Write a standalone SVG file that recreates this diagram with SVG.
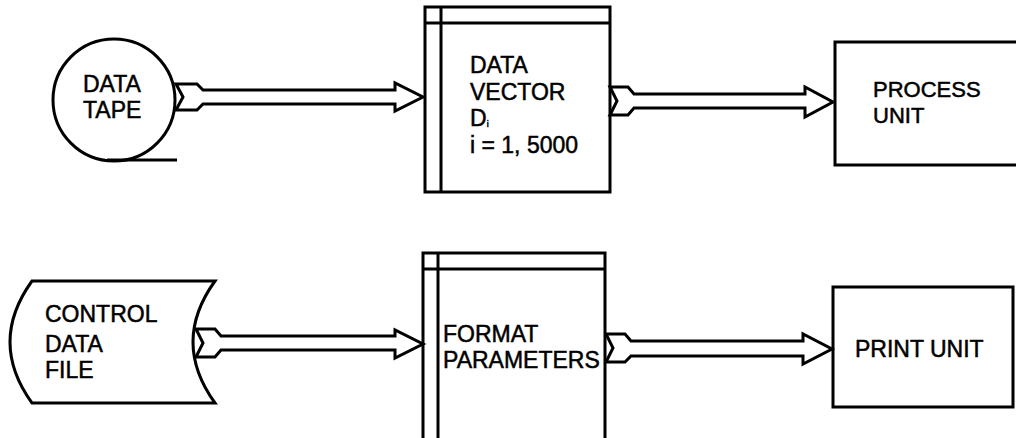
<svg xmlns="http://www.w3.org/2000/svg" width="1016" height="438" viewBox="0 0 1016 438">
  <style>
    .ln { fill: #fff; stroke: #000; stroke-width: 3; stroke-linejoin: miter; }
    .bar { fill: none; stroke: #000; stroke-width: 3; }
    .lbl { font-family: "Liberation Sans", Arial, sans-serif; font-size: 23px; fill: #000; stroke: #000; stroke-width: 0.5; }
    .sm { font-size: 22px; }
  </style>
  <rect width="1016" height="438" fill="#fff"/>

  <!-- input tape -->
  <g id="data-tape">
    <circle class="ln" cx="114" cy="100" r="61"/>
    <line class="bar" x1="107" y1="160" x2="177" y2="160"/>
    <text class="lbl" x="83" y="92">DATA</text>
    <text class="lbl" x="83" y="118">TAPE</text>
  </g>

  <!-- storage vector -->
  <g id="data-vector">
    <rect class="ln" x="425" y="7" width="185" height="185"/>
    <line class="bar" x1="441" y1="7" x2="441" y2="192"/>
    <line class="bar" x1="425" y1="23" x2="610" y2="23"/>
    <text class="lbl" x="470" y="73">DATA</text>
    <text class="lbl" x="470" y="100">VECTOR</text>
    <text class="lbl" x="470" y="126">D<tspan font-size="9" dy="1">i</tspan></text>
    <text class="lbl" x="470" y="153">i = 1, 5000</text>
  </g>

  <g id="process-unit">
    <rect class="ln" x="835" y="42" width="190" height="123"/>
    <text class="lbl sm" x="873" y="97">PROCESS</text>
    <text class="lbl sm" x="873" y="123">UNIT</text>
  </g>

  <!-- control card file -->
  <g id="control-data-file">
    <path class="ln" d="M32,281 L215,281 Q171,342 215,403 L32,403 Q-12,342 32,281 Z"/>
    <text class="lbl" x="45" y="322">CONTROL</text>
    <text class="lbl" x="45" y="352">DATA</text>
    <text class="lbl" x="45" y="378">FILE</text>
  </g>

  <g id="format-parameters">
    <rect class="ln" x="423" y="253" width="182" height="190"/>
    <line class="bar" x1="438" y1="253" x2="438" y2="443"/>
    <line class="bar" x1="423" y1="269" x2="605" y2="269"/>
    <text class="lbl" x="443" y="342">FORMAT</text>
    <text class="lbl" x="443" y="368">PARAMETERS</text>
  </g>

  <g id="print-unit">
    <rect class="ln" x="833" y="287" width="180" height="120"/>
    <text class="lbl" x="855" y="357">PRINT UNIT</text>
  </g>

  <!-- broad data-flow arrows with notched tails -->
  <g id="connectors">
    <path class="ln" d="M176,84 L197,84 L203,90 L395,90 L395,83 L423,97 L395,111 L395,104 L203,104 L197,110 L176,110 L183,97 Z"/>
    <path class="ln" d="M610,87 L628,87 L634,94 L805,94 L805,87 L833,102 L805,117 L805,108 L634,108 L628,115 L610,115 L617,101 Z"/>
    <path class="ln" d="M196,329 L215,329 L221,336 L395,336 L395,330 L423,344 L395,358 L395,350 L221,350 L215,357 L196,357 L203,343 Z"/>
    <path class="ln" d="M606,334 L625,334 L631,341 L803,341 L803,334 L832,349 L803,364 L803,356 L631,356 L625,362 L606,362 L613,348 Z"/>
  </g>
</svg>
